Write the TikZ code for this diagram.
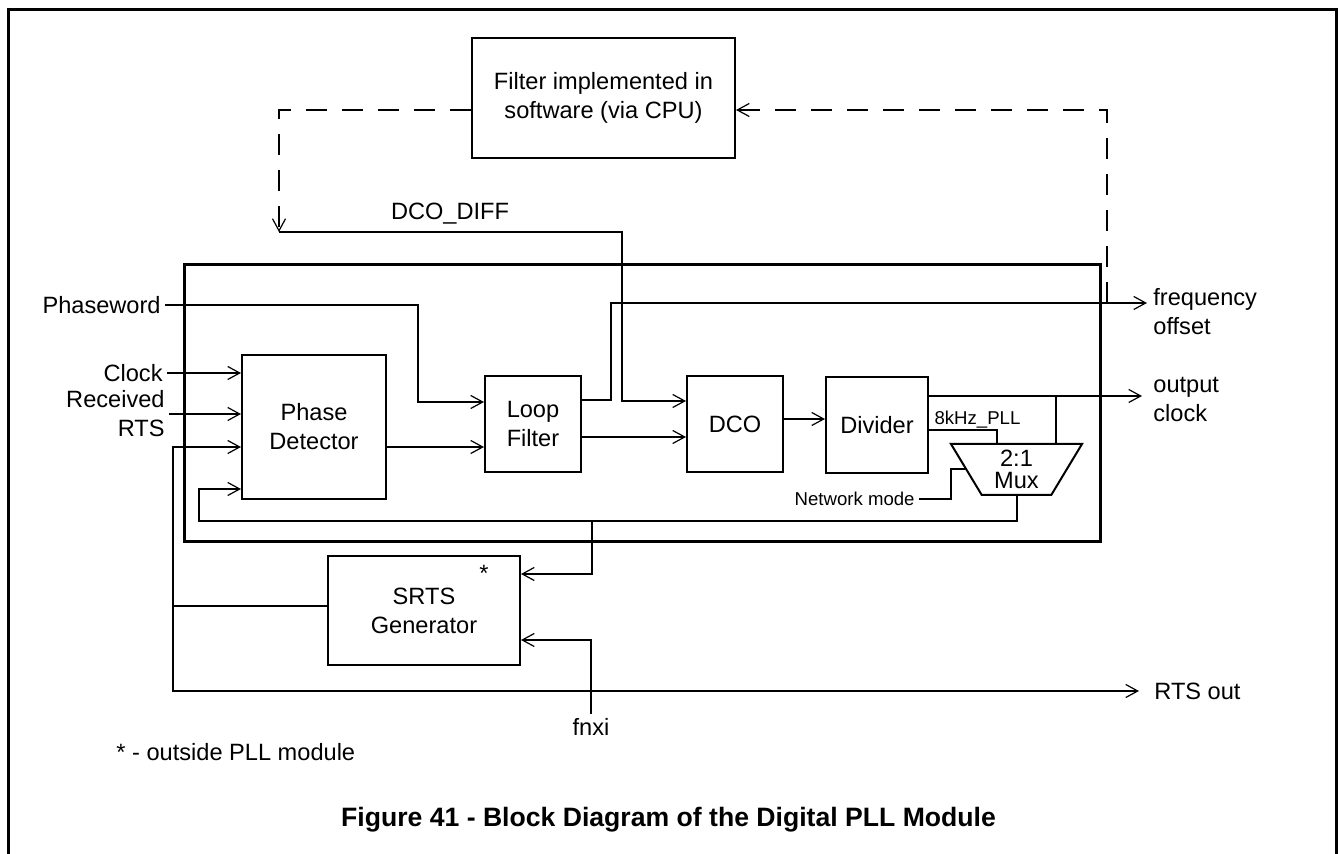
\documentclass[tikz,border=0pt]{standalone}
\usepackage{fontspec}
\setmainfont{Liberation Sans}
\usetikzlibrary{arrows.meta,shapes.geometric,positioning,calc}

\newcommand{\mainsz}{\fontsize{11.8}{14.5}\selectfont}
\newcommand{\smallsz}{\fontsize{9.3}{11}\selectfont}

\tikzset{
  blk/.style={draw, line width=1pt, inner sep=0pt, align=center},
  lbl/.style={inner sep=2pt, align=left},
  sig/.style={line width=1pt},
  arr/.style={sig, -{Straight Barb[length=6pt,width=6.5pt,line width=0.6pt]}},
  soft/.style={line width=1pt, dash pattern=on 10.5pt off 7.5pt},
}

\begin{document}
\begin{tikzpicture}[x=0.5pt,y=-0.5pt,font=\mainsz]
    \useasboundingbox (0,0) rectangle (1340,854);
    \draw[line width=1.5pt] (8,854) -- (8,10) -- (1336,10) -- (1336,854);

    % blocks
    \node[blk, minimum width=131.5pt, minimum height=60pt] (cpu) at (603.5,98) {Filter implemented in\\software (via CPU)};
    \node[draw, line width=1.5pt, inner sep=0pt, minimum width=458pt, minimum height=138.5pt] (pll) at (642,403.5) {};
    \node[blk, minimum width=72pt, minimum height=72pt] (pd) at (314,427) {Phase\\Detector};
    \node[blk, minimum width=48pt, minimum height=48pt] (lf) at (533,424) {Loop\\Filter};
    \node[blk, minimum width=48pt, minimum height=48pt] (dco) at (735,424) {DCO};
    \node[blk, minimum width=51pt, minimum height=48pt] (div) at (877,425) {Divider};
    \node[blk, trapezium, trapezium stretches, shape border rotate=180, trapezium angle=63,
          minimum width=65.5pt, minimum height=25.5pt, font={\fontsize{11.8}{11}\selectfont}] (mux) at (1016.5,469.5) {2:1\\Mux};
    \node[blk, minimum width=96pt, minimum height=54.5pt] (srts) at (424,610.5) {SRTS\\Generator};
    \node[inner sep=0pt] (star) at (484,573) {*};

    % labels
    \node[lbl, anchor=east] (phw) at (165,305) {Phaseword};
    \node[lbl, anchor=east] (clk) at (167,373) {Clock};
    \node[lbl, anchor=east, align=right] (rcv) at (169,414) {Received\\RTS};
    \node[lbl, anchor=west] (fo) at (1149,312) {frequency\\offset};
    \node[lbl, anchor=west] (oc) at (1149,399) {output\\clock};
    \node[lbl, anchor=west] (rtso) at (1150,691) {RTS out};
    \node[lbl] (dcod) at (450,214) {DCO\_DIFF};
    \node[lbl, font=\smallsz] (k8) at (977.5,420) {8kHz\_PLL};
    \node[lbl, anchor=east, font=\smallsz] (nwm) at (919,499) {Network mode};
    \node[lbl] (fnxi) at (591,727) {fnxi};
    \node[lbl, anchor=west] (note) at (112,752) {* - outside PLL module};
    \node[font={\fontsize{13.3}{16}\selectfont\bfseries}] (cap) at (668.5,820) {Figure 41 - Block Diagram of the Digital PLL Module};

    % ports
    \coordinate (ddiff) at (279,232);
    \coordinate (dbend) at (622,232);
    \coordinate (lfin1) at ([yshift=11pt]lf.west);
    \coordinate (lfin2) at ([yshift=-11.5pt]lf.west);
    \coordinate (lfout1) at ([yshift=12pt]lf.east);
    \coordinate (dcoin1) at ([yshift=11.5pt]dco.west);
    \coordinate (dcoin2) at ([yshift=-6.5pt]dco.west);
    \coordinate (dcoout) at ([yshift=2.5pt]dco.east);
    \coordinate (divout) at ([yshift=14.5pt]div.east);
    \coordinate (div8k) at ([yshift=-2.5pt]div.east);
    \coordinate (muxin0) at ([xshift=-10pt]mux.north);
    \coordinate (muxin1) at ([xshift=19.5pt]mux.north);
    \coordinate (nbend) at ([xshift=-32.75pt]mux.north);
    \coordinate (foin) at ([yshift=4.5pt]fo.west);
    \coordinate (ftap) at (foin -| 1107,0);
    \coordinate (pdin3) at ([yshift=-10pt]pd.west);
    \coordinate (pdin4) at ([yshift=-31pt]pd.west);
    \coordinate (fbl) at (199,521);
    \coordinate (tap) at (592,521);
    \coordinate (srtsout) at ([yshift=2.25pt]srts.west);
    \coordinate (srtsin1) at ([yshift=18.25pt]srts.east);
    \coordinate (srtsin2) at ([yshift=-14.75pt]srts.east);
    \coordinate (rtsx) at (srtsout -| 173,0);

    % software loop
    \draw[soft, arr] ([yshift=-6pt]cpu.west) -| (ddiff);
    \draw[soft, arr] (ftap) |- ([yshift=-6pt]cpu.east);

    % signals
    \draw[arr] (ddiff) -- (dbend) |- (dcoin1);
    \draw[arr] (phw.east) -- (phw.east -| 418,0) |- (lfin1);
    \draw[arr] (clk.east) -- (clk.east -| pd.west);
    \draw[arr] (rcv.east) -- (rcv.east -| pd.west);
    \draw[arr] (srtsout) -- (rtsx) |- (pdin3);
    \draw[arr, shorten >=5.5pt] (rtsx) |- (rtso.west);
    \draw[arr] (pd.east |- lfin2) -- (lfin2);
    \draw[arr, shorten >=1pt] (lfout1) -- ++(29,0) |- (foin);
    \draw[arr, line width=0.7pt] ([yshift=-6.5pt]lf.east) -- (dcoin2);
    \draw[arr] (dcoout) -- (dcoout -| div.west);
    \draw[arr, shorten >=3.5pt] (divout) -- (divout -| oc.west);
    \draw[sig] (divout -| muxin1) -- (muxin1);
    \draw[sig] (div8k) -| (muxin0);
    \draw[sig] (nwm.east) -| (nbend |- mux.west) -- (mux.west);
    \draw[arr] (mux.south) |- (fbl) |- (pdin4);
    \draw[arr] (tap) |- (srtsin1);
    \draw[arr] (fnxi.north) |- (srtsin2);
\end{tikzpicture}
\end{document}
